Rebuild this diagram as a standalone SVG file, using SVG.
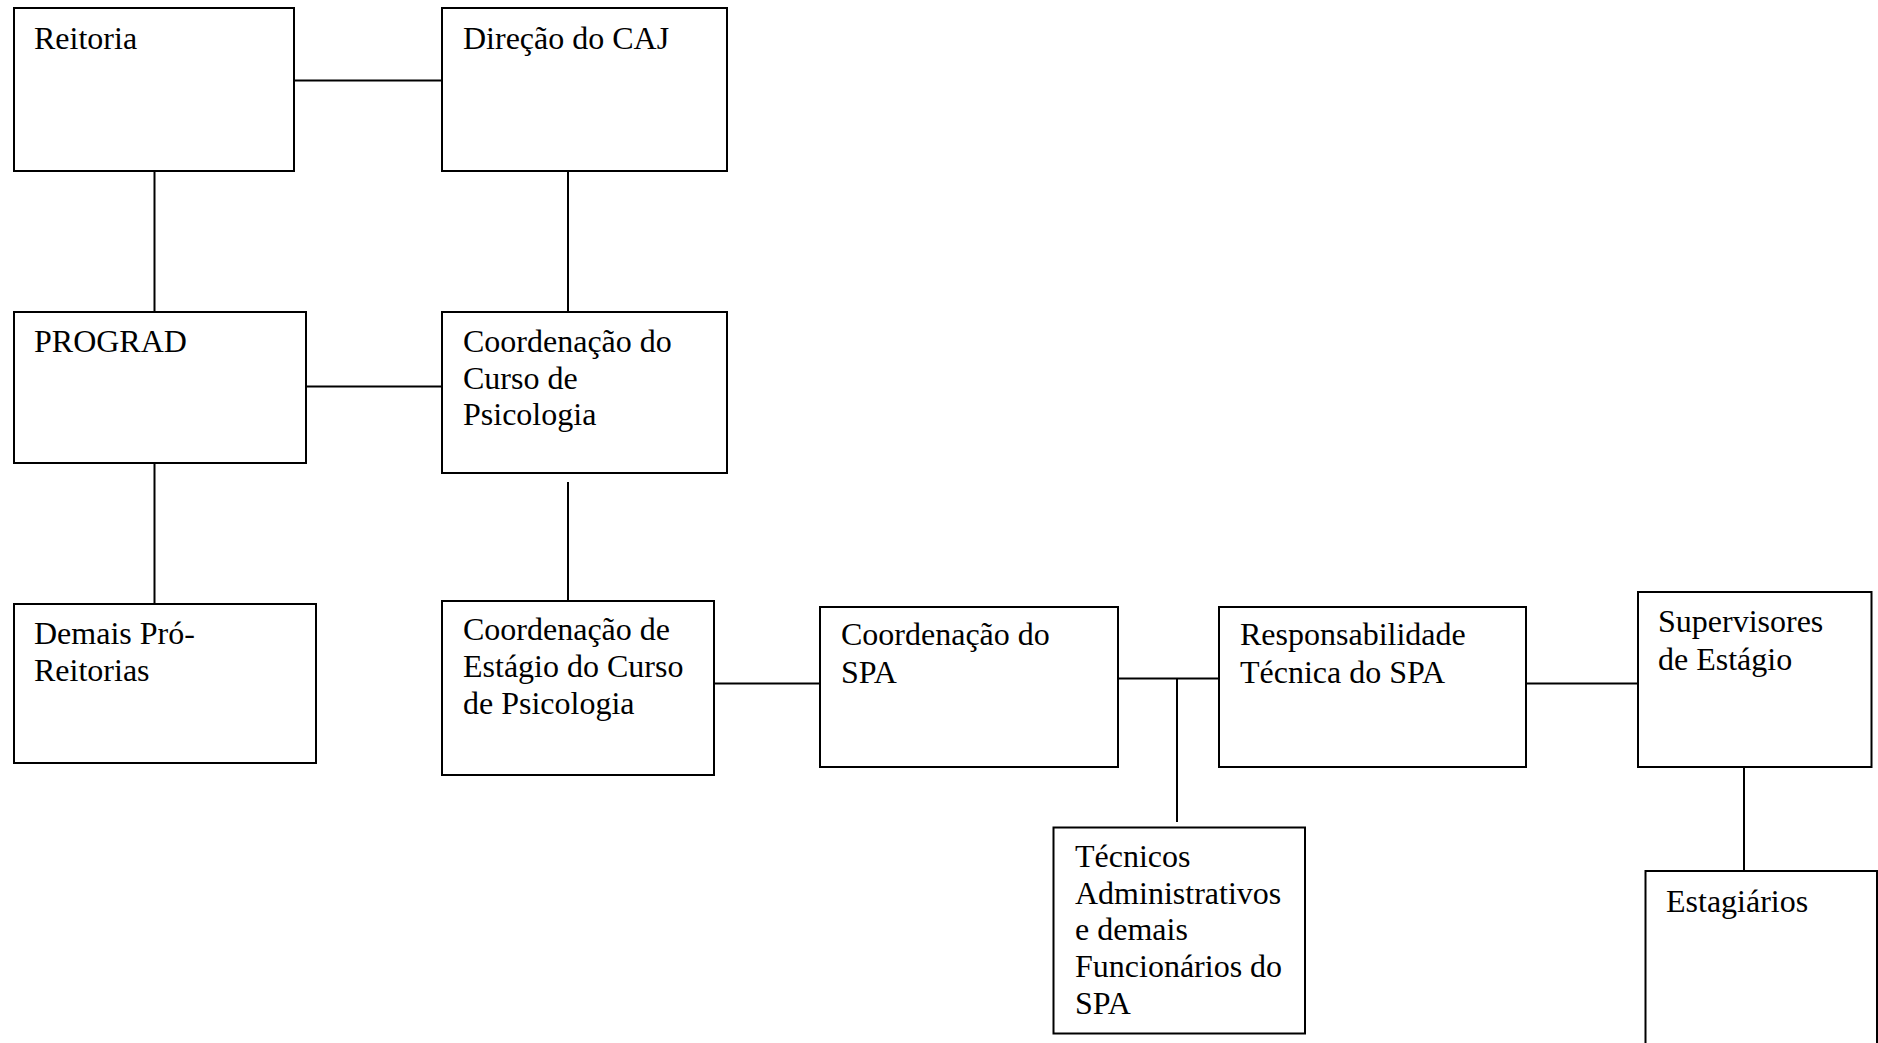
<svg xmlns="http://www.w3.org/2000/svg" width="1878" height="1043" viewBox="0 0 1878 1043">
<style>
.box{fill:#fff;stroke:#000;stroke-width:2}
.ln{stroke:#000;stroke-width:2;fill:none}
text{font-family:"Liberation Serif","Times New Roman",serif;font-size:32px;fill:#000}
</style>
<rect width="1878" height="1043" fill="#fff"/>
<g id="connectors">
<line class="ln" x1="294" y1="80.5" x2="442" y2="80.5"/>
<line class="ln" x1="154.5" y1="171" x2="154.5" y2="312"/>
<line class="ln" x1="568" y1="171" x2="568" y2="312"/>
<line class="ln" x1="306" y1="386.5" x2="442" y2="386.5"/>
<line class="ln" x1="154.5" y1="463" x2="154.5" y2="604"/>
<line class="ln" x1="568" y1="482" x2="568" y2="603"/>
<line class="ln" x1="714" y1="683.5" x2="820" y2="683.5"/>
<line class="ln" x1="1118" y1="678.5" x2="1219" y2="678.5"/>
<line class="ln" x1="1177" y1="678.5" x2="1177" y2="822"/>
<line class="ln" x1="1526" y1="683.5" x2="1638" y2="683.5"/>
<line class="ln" x1="1744" y1="767" x2="1744" y2="871"/>
</g>
<g id="reitoria">
<rect class="box" x="14" y="8" width="280" height="163"/>
<text x="34" y="49">Reitoria</text>
</g>
<g id="direcao">
<rect class="box" x="442" y="8" width="285" height="163"/>
<text x="463" y="49">Direção do CAJ</text>
</g>
<g id="prograd">
<rect class="box" x="14" y="312" width="292" height="151"/>
<text x="34" y="352">PROGRAD</text>
</g>
<g id="coord-curso">
<rect class="box" x="442" y="312" width="285" height="161"/>
<text x="463" y="352">Coordenação do</text>
<text x="463" y="388.5">Curso de</text>
<text x="463" y="425">Psicologia</text>
</g>
<g id="demais">
<rect class="box" x="14" y="604" width="302" height="159"/>
<text x="34" y="643.5">Demais Pró-</text>
<text x="34" y="681">Reitorias</text>
</g>
<g id="coord-estagio">
<rect class="box" x="442" y="601" width="272" height="174"/>
<text x="463" y="640">Coordenação de</text>
<text x="463" y="677">Estágio do Curso</text>
<text x="463" y="713.5">de Psicologia</text>
</g>
<g id="coord-spa">
<rect class="box" x="820" y="607" width="298" height="160"/>
<text x="841" y="645">Coordenação do</text>
<text x="841" y="683">SPA</text>
</g>
<g id="resp-tecnica">
<rect class="box" x="1219" y="607" width="307" height="160"/>
<text x="1240" y="645">Responsabilidade</text>
<text x="1240" y="683">Técnica do SPA</text>
</g>
<g id="tecnicos">
<rect class="box" x="1053.5" y="827.5" width="251.5" height="206"/>
<text x="1075" y="867">Técnicos</text>
<text x="1075" y="903.5">Administrativos</text>
<text x="1075" y="940">e demais</text>
<text x="1075" y="977">Funcionários do</text>
<text x="1075" y="1013.5">SPA</text>
</g>
<g id="supervisores">
<rect class="box" x="1638" y="592" width="233.5" height="175"/>
<text x="1658" y="632">Supervisores</text>
<text x="1658" y="669.5">de Estágio</text>
</g>
<g id="estagiarios">
<rect class="box" x="1645.5" y="871" width="231.5" height="190"/>
<text x="1666" y="912">Estagiários</text>
</g>
</svg>
